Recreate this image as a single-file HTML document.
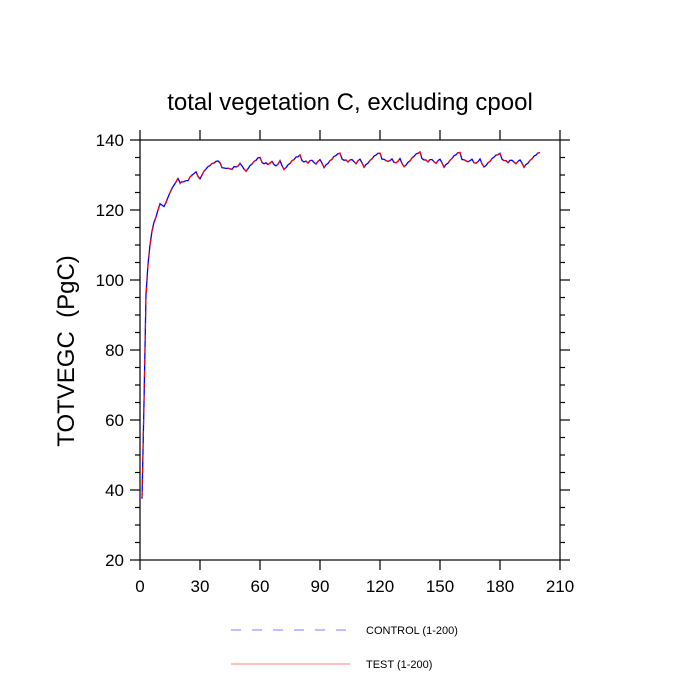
<!DOCTYPE html>
<html><head><meta charset="utf-8"><style>
html,body{margin:0;padding:0;background:#fff}
svg{display:block;font-family:"Liberation Sans",Arial,sans-serif}
</style></head><body>
<svg id="chart" width="700" height="700" viewBox="0 0 700 700">
<rect width="700" height="700" fill="#fff"/>
<text x="350" y="110" text-anchor="middle" font-size="24">total vegetation C, excluding cpool</text>
<text transform="translate(74,351) rotate(-90)" text-anchor="middle" font-size="24">TOTVEGC &#160;(PgC)</text>
<g id="axes"></g>
<g id="series"></g>
<g>
<line x1="231" y1="630" x2="346" y2="630" stroke="#8080ff" stroke-width="1" stroke-dasharray="10,11"/>
<text x="366" y="634" font-size="11">CONTROL (1-200)</text>
<line x1="231" y1="664" x2="350" y2="664" stroke="#ff8080" stroke-width="1"/>
<text x="366" y="668" font-size="11">TEST (1-200)</text>
</g>
</svg>
<script>
const xTicks=[0,30,60,90,120,150,180,210];
const yTicks=[20,40,60,80,100,120,140];
const years=[];for(let i=1;i<=200;i++)years.push(i);
const testValues=[38,66,95,104,110,114,116,118,120,121.5,121.3,121,122,123.5,125,126,127,128,129.2,127.5,
128.2,128,128.5,128.3,129.5,129.8,130.5,130.8,129.5,128.8,130,131,131.8,132.3,132.8,133.2,133.5,133.8,134,133.7,
132,132.1,131.8,132,131.7,131.5,132.5,132.2,132.6,133.4,132.5,131.8,131,131.8,132.6,133.2,133.8,134.3,134.8,135.1,
133.5,133.3,133.4,133,133.5,133.8,133,132.5,133.2,134,132.8,131.5,132.2,132.8,133.4,134,134.5,135,135.3,135.8,
134,133.8,133.9,133.5,134,134.3,133.5,133.2,133.8,134.5,133.3,132.2,132.8,133.4,134,134.6,135.2,135.7,136,136.3,
134.5,134.3,134.2,133.8,134.2,134.5,133.7,133.3,134,134.6,133.4,132.3,132.9,133.5,134.1,134.7,135.3,135.8,136.1,136.3,
134.6,134.4,134.2,133.8,134.2,134.5,133.7,133.4,134,134.6,133.4,132.3,132.9,133.5,134.1,134.8,135.4,135.9,136.3,136.5,
134.6,134.4,134.2,133.8,134.3,134.5,133.7,133.4,134,134.6,133.4,132.3,132.9,133.5,134.1,134.8,135.4,135.9,136.3,136.5,
134.5,134.3,134.1,133.7,134.2,134.4,133.6,133.3,133.9,134.5,133.3,132.2,132.8,133.4,134,134.6,135.2,135.6,135.9,136.1,
134.4,134.2,134,133.6,134.1,134.3,133.6,133.3,133.8,134.4,133.3,132.3,132.9,133.5,134.1,134.7,135.3,135.8,136.2,136.5];
const controlValues=[37.5,65,96,104.5,110,114,116.5,118,120,121.8,121.4,121,122.2,123.6,125,126.2,127.1,128,129,127.8,
128,128.1,128.4,128.4,129.4,130,130.4,130.9,129.6,128.9,130,131.1,131.7,132.4,132.7,133.3,133.4,133.9,134,133.5,
132.1,132,131.9,131.9,131.8,131.6,132.4,132.3,132.5,133.3,132.6,131.7,131.1,131.8,132.7,133.1,133.9,134.2,134.9,135,
133.6,133.2,133.5,133,133.4,133.9,133,132.6,133.1,134.1,132.7,131.6,132.1,132.9,133.3,134.1,134.4,135.1,135.2,135.7,
134.1,133.7,134,133.4,134.1,134.2,133.6,133.1,133.9,134.4,133.4,132.1,132.9,133.3,134.1,134.5,135.3,135.6,136.1,136.2,
134.6,134.2,134.3,133.7,134.3,134.4,133.8,133.2,134.1,134.5,133.5,132.2,133,133.4,134.2,134.6,135.4,135.7,136.2,136.2,
134.5,134.5,134.1,133.9,134.1,134.6,133.6,133.5,133.9,134.7,133.3,132.4,132.8,133.6,134,134.9,135.3,136,136.2,136.6,
134.7,134.3,134.3,133.7,134.4,134.4,133.8,133.3,134.1,134.5,133.5,132.2,133,133.4,134.2,134.7,135.5,135.8,136.4,136.4,
134.4,134.4,134,133.8,134.1,134.5,133.5,133.4,133.8,134.6,133.2,132.3,132.7,133.5,133.9,134.7,135.1,135.7,135.8,136.2,
134.5,134.1,134.1,133.5,134.2,134.2,133.7,133.2,133.9,134.3,133.4,132.2,133,133.4,134.2,134.6,135.4,135.7,136.3,136.4];
const L=140,R=560,T=140,B=560;
const xS=v=>L+(v-0)/(210-0)*(R-L);
const yS=v=>B-(v-20)/(140-20)*(B-T);
const NS="http://www.w3.org/2000/svg";
function mk(tag,attrs,parent){const e=document.createElementNS(NS,tag);for(const k in attrs)e.setAttribute(k,attrs[k]);parent.appendChild(e);return e;}
const axes=document.getElementById('axes');
const frame=mk('rect',{x:L,y:T,width:R-L,height:B-T,fill:'none',stroke:'#000','stroke-width':1.2},axes);


xTicks.forEach(t=>{
  const x=xS(t);
  const a=mk('line',{x1:x,y1:B,x2:x,y2:B+10,stroke:'#000','stroke-width':1.2},axes);
  
  
  const b=mk('line',{x1:x,y1:T,x2:x,y2:T-10,stroke:'#000','stroke-width':1.2},axes);
  
  
  const tx=mk('text',{x:x,y:B+32,'text-anchor':'middle','font-size':17},axes);
  tx.textContent=t;
  
  
});
for(let v=20;v<=140;v+=5){
  const y=yS(v);const major=yTicks.includes(v);const len=major?10:5;
  const a=mk('line',{x1:L,y1:y,x2:L-len,y2:y,stroke:'#000','stroke-width':1.2},axes);
  
  
  const b=mk('line',{x1:R,y1:y,x2:R+len,y2:y,stroke:'#000','stroke-width':1.2},axes);
  
  
}
yTicks.forEach(t=>{
  const tx=mk('text',{x:L-16,y:yS(t)+6,'text-anchor':'end','font-size':17},axes);
  tx.textContent=t;
  
  
});
const ser=document.getElementById('series');
const pc=mk('polyline',{points:years.map((yr,i)=>xS(yr)+','+yS(controlValues[i])).join(' '),fill:'none',stroke:'#0000ff','stroke-width':1.3},ser);


const pt=mk('polyline',{points:years.map((yr,i)=>xS(yr)+','+yS(testValues[i])).join(' '),fill:'none',stroke:'#ff0000','stroke-width':1.1,'stroke-dasharray':'6,6'},ser);


</script>
</body></html>
